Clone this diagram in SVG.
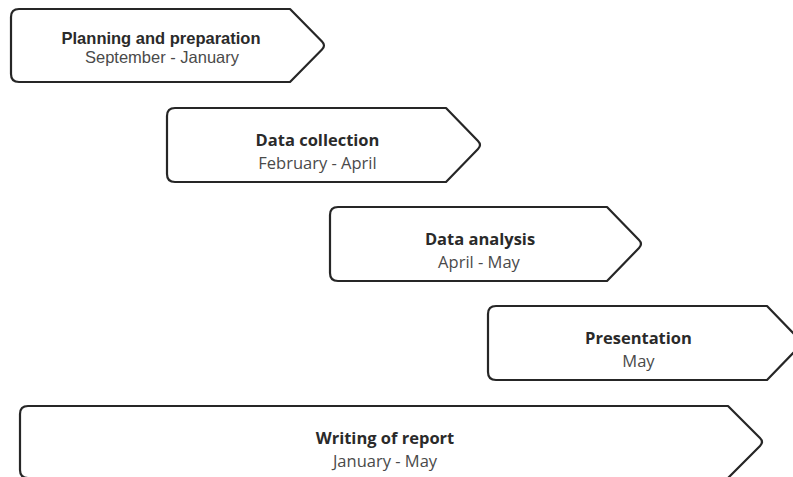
<svg xmlns="http://www.w3.org/2000/svg" width="793" height="477" viewBox="0 0 793 477">
  <style>
    .box { fill: #ffffff; stroke: #262626; stroke-width: 2.2; stroke-linejoin: round; }
    .t { font-family: "Open Sans", "Liberation Sans", sans-serif; font-size: 16.5px; font-weight: bold; fill: #2a2a2a; text-anchor: middle; }
    .s { font-family: "Open Sans", "Liberation Sans", sans-serif; font-size: 16.5px; fill: #4a4a4a; text-anchor: middle; }
    .arial { font-family: "Liberation Sans", Arial, sans-serif; }
  </style>
  <rect width="793" height="477" fill="#ffffff"/>

  <g id="planning">
    <path class="box" d="M19,9 H290 L322,41.5 Q326,45.5 322,49.5 L290,82 H19 Q11,82 11,74 V17 Q11,9 19,9 Z"/>
    <text class="t arial" x="161" y="44">Planning and preparation</text>
    <text class="s arial" x="162" y="63">September - January</text>
  </g>

  <g id="collection">
    <path class="box" d="M175,108 H446 L478,141 Q482,145 478,149 L446,182 H175 Q167,182 167,174 V116 Q167,108 175,108 Z"/>
    <text class="t" x="317.5" y="146">Data collection</text>
    <text class="s" x="317.5" y="169">February - April</text>
  </g>

  <g id="analysis">
    <path class="box" d="M338,207 H607 L639,240 Q643,244 639,248 L607,281 H338 Q330,281 330,273 V215 Q330,207 338,207 Z"/>
    <text class="t" x="480" y="245">Data analysis</text>
    <text class="s" x="479" y="268">April - May</text>
  </g>

  <g id="presentation">
    <path class="box" d="M496,306 H767 L799,339 Q803,343 799,347 L767,380 H496 Q488,380 488,372 V314 Q488,306 496,306 Z"/>
    <text class="t" x="638.5" y="344">Presentation</text>
    <text class="s" x="638.5" y="367">May</text>
  </g>

  <g id="report">
    <path class="box" d="M28,406 H728 L760,438 Q764,442 760,446 L728,478 H28 Q20,478 20,470 V414 Q20,406 28,406 Z"/>
    <text class="t" x="385" y="444">Writing of report</text>
    <text class="s" x="385" y="467">January - May</text>
  </g>

  <g id="connectors"></g>
</svg>
